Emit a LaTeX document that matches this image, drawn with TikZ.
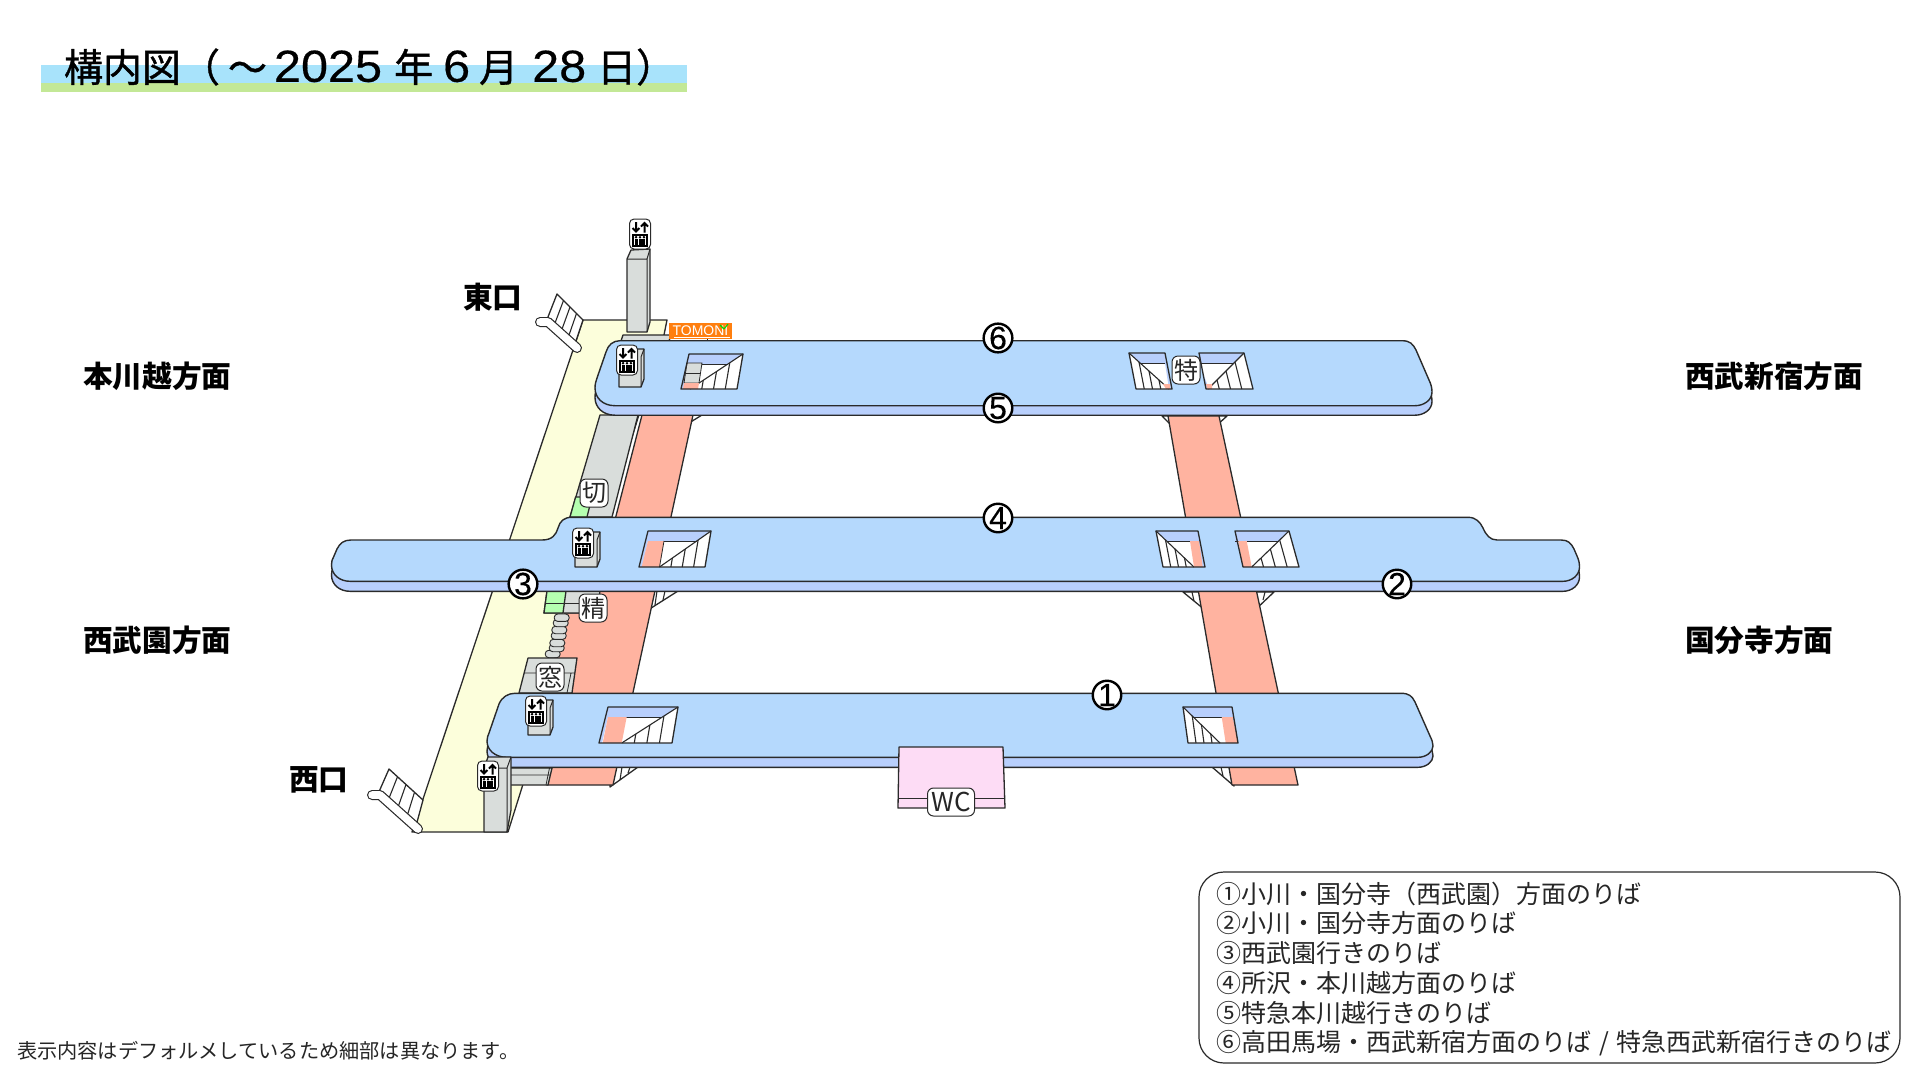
\documentclass[tikz,border=0pt]{standalone}
\usepackage{fontspec}
\usetikzlibrary{calc}
\newfontfamily\jp{Noto Sans CJK JP}
\newfontfamily\jptitle[FakeBold=1.0]{Noto Sans CJK JP}
\newfontfamily\lat{Liberation Sans}
\newfontfamily\latnum[FakeBold=0.3]{Liberation Sans}
\newfontfamily\lattitle[FakeBold=0.35,FakeStretch=1.08]{Liberation Sans}
\definecolor{platTop}{HTML}{B5D9FD}
\definecolor{platLow}{HTML}{B8CFFC}
\definecolor{salmon}{HTML}{FFB3A0}
\definecolor{grayf}{HTML}{D9DDDB}
\definecolor{yellowf}{HTML}{FCFEDB}
\definecolor{greenf}{HTML}{B5FFB0}
\definecolor{pinkf}{HTML}{FDDCF5}
\definecolor{bandA}{HTML}{A8E3FB}
\definecolor{bandB}{HTML}{C3E896}
\definecolor{orangef}{HTML}{FF7F0F}
\definecolor{ln}{HTML}{2A2A2A}
\tikzset{
  ol/.style={draw=ln,line width=1.3pt,line join=round},
  txt/.style={inner sep=0pt,outer sep=0pt,anchor=west,text=black},
  lab/.style={txt,font=\jp\fontsize{29.7}{29.7}\selectfont\bfseries},
  leg/.style={txt,font=\jp\fontsize{25}{25}\selectfont,text=black!85},
  sign/.style={draw=ln,fill=white,line width=1pt,rounded corners=6pt,minimum width=28pt,minimum height=28pt,inner sep=0pt,font=\jp\fontsize{24}{24}\selectfont,text=black!85},
  num/.style={circle,draw=black,fill=white,line width=2.4pt,minimum size=28.5pt,inner sep=0pt,font=\latnum\fontsize{32}{32}\selectfont},
  platU/.style={fill=platTop,draw=ln,line width=1.4pt,line join=round},
  platD/.style={fill=platLow,draw=ln,line width=1.4pt,line join=round},
  hat/.style={draw=ln,line width=1.1pt},
  rail/.style={line cap=round,line join=round}
}
\newcommand\pathSix{(620,340.7) -- (1402,340.7) .. controls (1410,340.7) and (1413,344) .. (1416,350) -- (1429,380) .. controls (1431,384) and (1432,388) .. (1432,392) .. controls (1432,400) and (1424,405.7) .. (1415,405.7) -- (615,405.7) .. controls (603,405.7) and (595,398) .. (595,388) .. controls (595,384) and (596,381) .. (597,378) -- (606,352) .. controls (608,345) and (613,340.7) .. (620,340.7) -- cycle}
\newcommand\pathFour{(351,540) -- (542,540) .. controls (552,540) and (556,535) .. (558,528) .. controls (560,521) and (564,517.3) .. (572,517.3) -- (1468,517.3) .. controls (1476,517.3) and (1480,522) .. (1483,528) .. controls (1486,535) and (1490,540) .. (1497,540) -- (1561,540) .. controls (1568,540) and (1571,543) .. (1574,549) -- (1577,556) .. controls (1579,560) and (1579.5,564) .. (1579.5,567) .. controls (1579.5,575) and (1572,581.3) .. (1563,581.3) -- (350,581.3) .. controls (340,581.3) and (331.5,575) .. (331.5,565) .. controls (331.5,562) and (332,559) .. (334,556) -- (337,549) .. controls (340,543) and (344,540) .. (351,540) -- cycle}
\newcommand\pathOne{(515,693.3) -- (1401,693.3) .. controls (1409,693.3) and (1412,696) .. (1415,702) -- (1430,736) .. controls (1432,740) and (1433,743) .. (1433,746) .. controls (1433,752) and (1426,757.3) .. (1418,757.3) -- (507,757.3) .. controls (495,757.3) and (487,750) .. (487,741) .. controls (487,738) and (488,735) .. (489,733) -- (499,704) .. controls (502,697) and (508,693.3) .. (515,693.3) -- cycle}
% stairs with the diagonal from the top right corner
\newcommand\stairR[8]{%
  \fill[white] (#1,#5)--(#2,#5)--(#3,#6)--(#4,#6)--cycle;
  \pgfmathsetmacro\ytwo{#5+10}
  \pgfmathsetmacro\xd{#2+(#7-#2)*10/(#6-#5)}
  \fill[platLow] (#1,#5)--(#4,#6)--({#4+3},#6)--(#1,\ytwo)--cycle;
  \begin{scope}
    \clip (#2,#5)--(#3,#6)--(#7,#6)--cycle;
    \foreach \k in {1,2,3}{
      \pgfmathsetmacro\xb{#7+\k*(#3-#7)/4}
      \draw[hat] (\xb,#6)--({\xb+#2-#3},#5);}
  \end{scope}
  \fill[platLow] (#1,#5)--(#2,#5)--(\xd,\ytwo)--(#1,\ytwo)--cycle;
  \draw[hat] (#2,#5)--(#7,#6);
  \draw[draw=ln,line width=.7pt] (#1,\ytwo)--(\xd,\ytwo);
  #8
  \draw[ol] (#1,#5)--(#2,#5)--(#3,#6)--(#4,#6)--cycle;
}
% stairs with the diagonal from the top left corner
\newcommand\stairL[8]{%
  \fill[white] (#1,#5)--(#2,#5)--(#3,#6)--(#4,#6)--cycle;
  \pgfmathsetmacro\ytwo{#5+10}
  \pgfmathsetmacro\xd{#1+(#7-#1)*10/(#6-#5)}
  \fill[platLow] (#2,#5)--(#3,#6)--({#3-3},#6)--(#2,\ytwo)--cycle;
  \begin{scope}
    \clip (#1,#5)--(#4,#6)--(#7,#6)--cycle;
    \foreach \k in {1,2,3}{
      \pgfmathsetmacro\xb{#4+\k*(#7-#4)/4}
      \draw[hat] (\xb,#6)--({\xb+#1-#4},#5);}
  \end{scope}
  \fill[platLow] (#1,#5)--(#2,#5)--(#2,\ytwo)--(\xd,\ytwo)--cycle;
  \draw[hat] (#1,#5)--(#7,#6);
  \draw[draw=ln,line width=.7pt] (#2,\ytwo)--(\xd,\ytwo);
  #8
  \draw[ol] (#1,#5)--(#2,#5)--(#3,#6)--(#4,#6)--cycle;
}
\newcommand\evicon[2]{%
  \begin{scope}[shift={(#1,#2)}]
    \draw[draw=ln,fill=white,line width=1pt,rounded corners=4.5pt] (-10.5,-15) rectangle (10.5,15);
    \draw[black,line width=2pt] (-4,-12)--(-4,-2.5) (-7.5,-6)--(-4,-2.5)--(-.5,-6);
    \draw[black,line width=2pt] (4.5,-1.5)--(4.5,-11) (1,-7.5)--(4.5,-11)--(8,-7.5);
    \fill[black] (-8,0) rectangle (8,13);
    \fill[white] (-6.4,1.6) rectangle (6.4,11.4);
    \foreach \u in {-3.9,0,3.9}{
      \fill[black] ({\u-1.5},4.6) rectangle ({\u+1.5},11.4);
      \fill[black] (\u,3.2) circle (1.4pt);}
  \end{scope}}
\newcommand\evbox[3]{% icon centre, bottom of the box
  \begin{scope}[shift={(#1,0)}]
    \draw[ol,fill=grayf] (-8,{#2-8})--(-2,{#2-11})--(17,{#2-11})--(17,{#3-8})--(14,#3)--(-8,#3)--cycle;
    \draw[ol,line width=1pt] (14,#3)--(14,{#2-3})--(17,{#2-11});
  \end{scope}
  \evicon{#1}{#2}}
\begin{document}
\begin{tikzpicture}[x=1pt,y=-1pt]
\useasboundingbox (0,0) rectangle (1920,1080);
\fill[white] (0,0) rectangle (1920,1080);
% title
\fill[bandA] (41,65) rectangle (687,83);
\fill[bandB] (41,83) rectangle (687,92);
\node[txt] (title) at (64,67) {\jptitle\fontsize{39}{39}\selectfont 構内図（\hskip8pt～\hskip7pt{\lattitle\fontsize{45}{45}\selectfont 2025}\hskip12pt 年\hskip10pt{\lattitle\fontsize{45}{45}\selectfont 6}\hskip9pt 月\hskip14pt{\lattitle\fontsize{45}{45}\selectfont 28}\hskip11pt 日）};
% direction labels
\node[lab] (honkawagoe) at (83,376) {本川越方面};
\node[lab] (higashi) at (463,297) {東口};
\node[lab] (shinjuku) at (1685,376) {西武新宿方面};
\node[lab] (seibuen) at (83,640) {西武園方面};
\node[lab] (kokubunji) at (1685,640) {国分寺方面};
\node[lab] (nishi) at (289,780) {西口};
% concourse
\draw[ol,fill=yellowf] (583,320)--(667,320)--(664,335)--(508,832)--(412,832)--cycle;
% white stair wedges behind the platforms
\draw[ol,fill=white] (685,415)--(702,415)--(689,423)--cycle;
\draw[ol,fill=white] (645,591)--(678,591)--(648,610)--cycle;
\draw[hat] (657,591)--(655,605) (665,591)--(663,600);
\draw[ol,fill=white] (610,767)--(638,767)--(610,787)--cycle;
\draw[hat] (622,767)--(620,780) (630,767)--(628,773);
\draw[ol,fill=white] (1162,416)--(1172,426)--(1172,416)--cycle;
\draw[ol,fill=white] (1227,416)--(1216,426)--(1216,416)--cycle;
\draw[ol,fill=white] (1183,592)--(1205,610)--(1205,592)--cycle;
\draw[hat] (1192,592)--(1194,601);
\draw[ol,fill=white] (1274,592)--(1255,610)--(1255,592)--cycle;
\draw[hat] (1265,592)--(1263,600);
\draw[ol,fill=white] (1212,767)--(1234,786)--(1234,767)--cycle;
\draw[hat] (1221,767)--(1223,776);
% track-side salmon areas
\draw[ol,fill=salmon] (642,415)--(693,415)--(613,785)--(547,785)--(572,693)--(555,658)--(565,613)--(591,613)--cycle;
\draw[ol,fill=salmon] (1168,416)--(1219,416)--(1298,785)--(1232,785)--cycle;
% gray concourse with gates
\draw[ol,fill=grayf] (600,415)--(638,415)--(612,517)--(570,517)--cycle;
\draw[ol,fill=greenf] (575.6,497)--(592,497)--(587,517)--(570,517)--cycle;
\draw[ol,fill=grayf] (547,591)--(600,591)--(597,613)--(544,613)--cycle;
\draw[ol,fill=greenf] (547,591)--(566,591)--(563,613)--(544,613)--cycle;
\draw[draw=ln,line width=.8pt] (545,603)--(600,603);
% small stairs chain
\foreach \cx/\cy in {552.7/654,556.7/648,557.3/643,558.7/635.7,559.3/630,560.7/623,561.7/617.7}{
  \draw[draw=ln,line width=.9pt,fill=grayf,rounded corners=3.5pt] ({\cx-7.5},{\cy-3.7}) rectangle ({\cx+7.5},{\cy+3.7});}
% ticket window block
\draw[ol,fill=grayf] (528,658)--(577,658)--(572,693)--(519,693)--cycle;
\draw[draw=ln,line width=.8pt] (524,673)--(574.5,673) (571,673)--(567,693);
% west passage
\draw[ol,fill=grayf] (505,768)--(552,768)--(548,785)--(505,785)--cycle;
\draw[draw=ln,line width=.8pt] (505,775)--(550,775) (549.5,768)--(546,785);
% top band and lift column
\draw[ol,fill=grayf] (623,335)--(671,335)--(668,344)--(620,344)--cycle;
\draw[ol,fill=grayf] (627,259)--(631,250)--(650,249)--(650,322)--(647,332)--(627,332)--cycle;
\draw[ol,line width=1pt] (627,259)--(647,259)--(650,249) (647,259)--(647,332);
% TOMONI sign
\fill[orangef] (669,323) rectangle (732,339);
\node[inner sep=0pt,text=white,font=\lat\fontsize{14}{14}\selectfont] (tomoni) at (700.5,330.5) {TOMONI};
\draw[white,line width=.8pt] (674,337)--(730,337);
\draw[green!85!black,line width=1.1pt] (724,329)--(720,325) (724,329)--(728,324);
\draw[ln,line width=1pt] (707,339)--(707,342);
% exits
\coordinate (ea) at (557,294); \coordinate (eb) at (583,320);
\coordinate (ec) at (546,322); \coordinate (ed) at (573,350);
\draw[ol,fill=white] (ea)--(eb)--(ed)--(ec)--cycle;
\foreach \t in {.25,.5,.75}{\draw[hat] ($(ea)!\t!(eb)$)--($(ec)!\t!(ed)$);}
\draw[rail,ln,line width=10pt] (540,322)--(548,322)--(577,348);
\draw[rail,white,line width=7.6pt] (540,322)--(548,322)--(577,348);
\coordinate (wa) at (389,769); \coordinate (wb) at (423,800);
\coordinate (wc) at (378,794); \coordinate (wd) at (416,826);
\draw[ol,fill=white] (wa)--(wb)--(wd)--(wc)--cycle;
\foreach \t in {.25,.5,.75}{\draw[hat] ($(wa)!\t!(wb)$)--($(wc)!\t!(wd)$);}
\draw[rail,ln,line width=10pt] (372,795)--(380,795)--(418,829);
\draw[rail,white,line width=7.6pt] (372,795)--(380,795)--(418,829);
% platforms
\draw[platD,shift={(0,9.5)}] \pathSix;
\draw[platU] \pathSix;
\draw[platD,shift={(0,10)}] \pathFour;
\draw[platU] \pathFour;
\draw[platD,shift={(0,10)}] \pathOne;
\draw[platU] \pathOne;
% lifts on the platforms
\evbox{627}{360}{387}
\evbox{583}{543}{567}
\evbox{536}{711}{735}
% platform stairs
\stairR{689}{743}{737}{681}{354}{389}{690}{%
  \draw[draw=ln,line width=.8pt,fill=grayf] (687,363)--(702,363)--(699,383)--(684,383)--cycle;
  \draw[draw=ln,line width=.8pt] (685.5,373)--(700.5,373);
  \fill[salmon] (684,383)--(699,383)--(698,389)--(683,389)--cycle;}
\stairL{1129}{1165}{1172}{1136}{353}{389}{1169}{%
  \fill[salmon] (1163,384)--(1170,384)--(1170,389)--(1166,389)--cycle;}
\stairR{1199}{1244}{1253}{1206}{353}{389}{1208}{%
  \fill[salmon] (1206,384)--(1212,384)--(1212,389)--(1207,389)--cycle;}
\stairR{648}{711}{705}{639}{531}{567}{659.5}{%
  \fill[salmon] (648,541)--(664,541)--(659.5,567)--(641.7,567)--cycle;
  \draw[ln,line width=.8pt] (664,541)--(659.5,567);}
\stairL{1156}{1198}{1205}{1163}{531}{567}{1194}{%
  \fill[salmon] (1190,541)--(1199,541)--(1202.7,567)--(1194,567)--cycle;}
\stairR{1235}{1289}{1299}{1243}{531}{567}{1251.7}{%
  \fill[salmon] (1238.3,541)--(1246.7,541)--(1251.7,567)--(1243,567)--cycle;}
\stairR{608}{678}{672}{599}{707}{743}{621.7}{%
  \fill[salmon] (608,717)--(626.7,717)--(621.7,743)--(602.7,743)--cycle;}
\stairL{1183}{1232}{1238}{1188}{707}{743}{1220}{%
  \fill[salmon] (1221.7,717)--(1232.7,717)--(1238,743)--(1225.7,743)--cycle;}
% west lift
\draw[ol,fill=grayf] (488,757)--(511,757)--(511,810)--(507,832)--(484,832)--(484,768)--cycle;
\draw[ol,line width=1pt] (484,768)--(507,768)--(511,757) (507,768)--(507,832);
\evicon{488}{776}
\evicon{640}{234}
% WC
\draw[ol,fill=pinkf] (899,747)--(1003,747)--(1005,808)--(898,808)--cycle;
\draw[draw=ln,line width=1pt] (898.3,798)--(1004.7,798);
% signs
\node[sign] (kippu) at (594,493) {切};
\node[sign] (seisan) at (593,608) {精};
\node[sign] (mado) at (550,677) {窓};
\node[sign] (tokkyu) at (1186,370) {特};
\node[sign,minimum width=47pt,font=\jp\fontsize{26}{26}\selectfont] (wc) at (951,802) {WC};
% platform numbers
\node[num] (n6) at (998,338) {6};
\node[num] (n5) at (998,408) {5};
\node[num] (n4) at (998,518) {4};
\node[num] (n3) at (523,584) {3};
\node[num] (n2) at (1397,584) {2};
\node[num] (n1) at (1107,695) {1};
% legend
\draw[draw=ln,line width=1.2pt,rounded corners=25pt] (1199,872) rectangle (1900,1063);
\node[leg] (l1) at (1216,894) {①小川・国分寺（西武園）方面のりば};
\node[leg] (l2) at (1216,923.5) {②小川・国分寺方面のりば};
\node[leg] (l3) at (1216,953) {③西武園行きのりば};
\node[leg] (l4) at (1216,983) {④所沢・本川越方面のりば};
\node[leg] (l5) at (1216,1013) {⑤特急本川越行きのりば};
\node[leg] (l6) at (1216,1043) {⑥高田馬場・西武新宿方面のりば\hskip8pt/\hskip8pt 特急西武新宿行きのりば};
\node[txt,font=\jp\fontsize{20.2}{20.2}\selectfont,text=black!85] (note) at (17,1051) {表示内容はデフォルメしているため細部は異なります。};
\end{tikzpicture}
\end{document}
